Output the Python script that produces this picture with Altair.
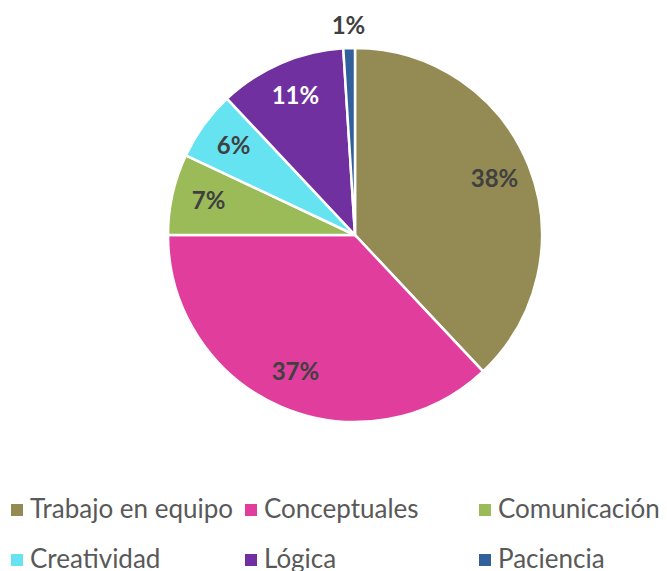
import altair as alt
import pandas as pd

categories = ["Trabajo en equipo", "Conceptuales", "Comunicación", "Creatividad", "Lógica", "Paciencia"]
values = [38, 37, 7, 6, 11, 1]
labels = ["38%", "37%", "7%", "6%", "11%", "1%"]
colors = ["#948A54", "#E13D9D", "#9BBB59", "#66E3F0", "#7030A0", "#32609A"]
label_colors = ["#404040", "#404040", "#404040", "#404040", "#FFFFFF", "#404040"]

df = pd.DataFrame({
    "cat": categories,
    "val": values,
    "lab": labels,
    "idx": list(range(len(categories))),
    "lc": label_colors,
})

CX, CY, R = 355, 235, 187

base = alt.Chart(df).encode(
    theta=alt.Theta("val:Q", stack=True),
    order=alt.Order("idx:Q"),
)

pie = base.mark_arc(outerRadius=R, stroke="white", strokeWidth=2.5).encode(
    x=alt.value(CX),
    y=alt.value(CY),
    color=alt.Color(
        "cat:N",
        scale=alt.Scale(domain=categories, range=colors),
        sort=categories,
        legend=alt.Legend(
            title=None,
            orient="none",
            direction="horizontal",
            legendX=4,
            legendY=497,
            columns=3,
            gridAlign="all",
            columnPadding=4,
            rowPadding=24,
            symbolType="square",
            symbolSize=144,
            symbolStrokeWidth=0,
            symbolOpacity=1,
            labelFont="Lato",
            labelFontSize=26,
            labelColor="#595959",
            labelOffset=0,
            labelLimit=400,
            padding=0,
        ),
    ),
)

inner = base.mark_text(radius=150, font="Lato", fontSize=24, fontWeight="bold").encode(
    x=alt.value(CX),
    y=alt.value(CY),
    text="lab:N",
    color=alt.Color("lc:N", scale=None),
    opacity=alt.condition(alt.datum.val >= 5, alt.value(1), alt.value(0)),
)

outer = base.mark_text(radius=208, font="Lato", fontSize=24, fontWeight="bold").encode(
    x=alt.value(CX),
    y=alt.value(CY),
    text="lab:N",
    color=alt.value("#404040"),
    opacity=alt.condition(alt.datum.val < 5, alt.value(1), alt.value(0)),
)

chart = alt.layer(pie, inner, outer).properties(
    width=667,
    height=571,
    padding=0,
    autosize=alt.AutoSizeParams(type="none"),
    background="white",
).configure_view(stroke=None)

chart.save("out.html", embed_options={"renderer": "svg", "actions": False})
